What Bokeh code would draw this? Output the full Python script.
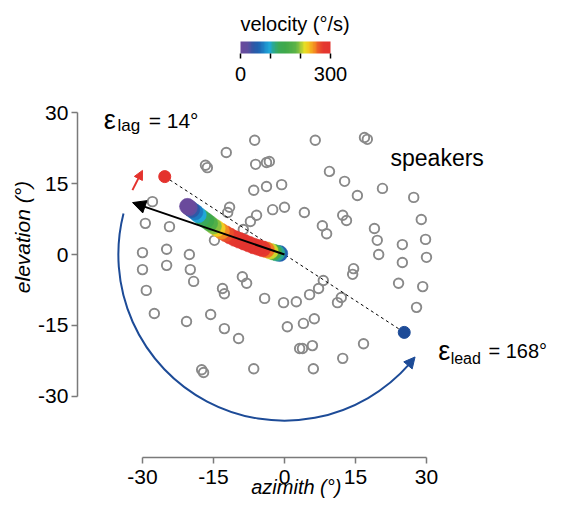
import numpy as np
from bokeh.plotting import figure
from bokeh.models import (ColumnDataSource, LinearColorMapper, ColorBar, FixedTicker,
                          Arrow, NormalHead, Label)
from bokeh.embed import file_html
from bokeh.resources import INLINE

# ---------------- data ----------------
# speaker positions (azimuth, elevation in degrees)
spk_az = [-6.3, 6.5, 16.9, 17.5, -12.3, -16.7, -16.3, -6.1, -3.8, -3.2, 9.5, 12.7, 15.4, 20.7,
          27.3, -27.9, -6.5, -3.8, -0.6, -11.6, -12.0, -5.9, -2.5, 0.0, 4.2, 12.3, 13.1, 8.0,
          8.9, 19.0, 28.9, -29.4, -24.3, -7.2, -8.7, -14.8, 19.6, 24.9, 29.8, -30.0, -24.9,
          -20.1, 19.9, 24.9, 30.0, -30.0, -24.9, -19.9, -19.2, -8.9, -8.0, 14.6, 14.4, 8.2,
          24.1, 29.2, -29.2, -13.1, -12.7, -4.2, -0.2, 7.2, 5.3, 2.5, 12.0, 11.2, 27.9, -27.5,
          -20.7, -15.6, -12.7, -9.7, 0.6, 4.0, 6.3, 16.7, 5.9, 3.2, 3.8, 12.3, 6.1, -17.5,
          -17.1, -6.5]
spk_el = [24.2, 24.2, 24.8, 24.4, 21.6, 18.9, 18.4, 19.1, 19.5, 19.7, 17.6, 15.5, 12.5, 14.0,
          12.1, 11.2, 13.6, 14.4, 14.8, 10.0, 8.9, 8.3, 9.5, 10.0, 8.9, 8.3, 7.2, 6.1,
          4.4, 5.5, 7.4, 6.6, 5.9, 7.0, 5.3, 3.0, 3.0, 2.1, 3.2, 0.4, 1.1,
          0.0, 0.0, -1.7, -0.6, -3.2, -2.3, -3.2, -5.7, -4.7, -6.1, -3.0, -4.2, -5.5,
          -6.1, -6.8, -7.6, -7.2, -8.3, -9.3, -10.2, -7.2, -8.5, -10.0, -9.1, -10.2, -11.2, -12.5,
          -14.2, -12.7, -15.7, -17.8, -15.3, -14.6, -13.6, -18.9, -19.3, -19.9, -19.9, -22.0, -24.2, -24.4,
          -25.0, -24.2]

# lag target (red) and lead target (blue)
target_az = [-25.3, 25.3]
target_el = [16.5, -16.5]

# response trajectory and velocity (deg/s)
traj_az = [-1.0, -1.6, -2.3, -3.0, -3.8, -4.6, -5.5, -6.5, -7.5, -8.5, -9.5, -10.5, -11.5,
           -12.4, -13.3, -14.2, -15.0, -15.8, -16.6, -17.4, -18.2, -18.9, -19.6, -20.1, -20.5]
traj_el = [0.2, 0.3, 0.5, 0.7, 1.0, 1.2, 1.5, 1.8, 2.2, 2.6, 3.0, 3.4, 3.9,
           4.4, 4.9, 5.5, 6.0, 6.6, 7.2, 7.8, 8.4, 9.0, 9.5, 9.9, 10.2]
traj_vel = [60, 110, 160, 210, 250, 275, 290, 298, 300, 300, 296, 290, 280,
            266, 248, 222, 196, 170, 146, 122, 97, 72, 46, 22, 0]

# response direction (end of black arrow)
resp_az = [0.0, -32.1]
resp_el = [0.0, 11.0]

# error arcs: radius (deg) and angles (deg)
lag_arc = dict(radius=34.9, start=157.0, end=149.3)
lead_arc = dict(radius=35.1, start=165.7, end=321.8)

axis_ticks = [-30, -15, 0, 15, 30]
axis_tick_labels = {-30: "-30", -15: "-15", 0: "0", 15: "15", 30: "30"}
cbar_ticks = [0, 100, 200, 300]
cbar_labels = {100: "", 200: ""}

FONT = "Liberation Sans"
RED = "#e4322d"
BLUE = "#1d4b97"
GRAY = "#898989"

anchors_v = [0, 25, 40, 60, 80, 95, 110, 125, 150, 185, 200, 215, 230, 245, 260, 275, 300]
anchors_c = ["#6a4a9c", "#5d4fa0", "#2f57a5", "#1f63b1", "#1d8ccb", "#20a8d8", "#2aa88f",
             "#3aa957", "#3fa94a", "#5cb347", "#9cc83c", "#e9df25", "#f5c11f", "#f49420",
             "#ec5e27", "#e5392f", "#e3342f"]


def hex2rgb(h):
    return [int(h[i:i + 2], 16) for i in (1, 3, 5)]


rgb = np.array([hex2rgb(c) for c in anchors_c], dtype=float)
grid = np.linspace(0, 300, 64)
palette = []
for g in grid:
    r = np.interp(g, anchors_v, rgb[:, 0])
    gg = np.interp(g, anchors_v, rgb[:, 1])
    b = np.interp(g, anchors_v, rgb[:, 2])
    palette.append("#%02x%02x%02x" % (int(round(r)), int(round(gg)), int(round(b))))

# ---------------- figure ----------------
# frame covers the whole canvas; axes are pinned with fixed_location
X_AXIS_AT = -43.0   # elevation where the azimuth axis is drawn
Y_AXIS_AT = -43.74  # azimuth where the elevation axis is drawn

p = figure(width=550, height=498, x_range=(-60.0, 56.2), y_range=(-51.69, 53.81),
           output_backend="svg", toolbar_location=None, title=None,
           min_border_left=0, min_border_right=0, min_border_top=0, min_border_bottom=0)
p.outline_line_color = None
p.grid.visible = False

for ax in (p.xaxis[0], p.yaxis[0]):
    ax.ticker = FixedTicker(ticks=axis_ticks)
    ax.major_label_overrides = axis_tick_labels
    ax.bounds = (-30, 30)
    ax.axis_line_color = "#7a7a7a"
    ax.axis_line_width = 1.5
    ax.major_tick_line_color = "#7a7a7a"
    ax.major_tick_line_width = 1.5
    ax.major_tick_in = 0
    ax.major_tick_out = 6
    ax.minor_tick_line_color = None
    ax.major_label_text_font = FONT
    ax.major_label_text_font_size = "21px"
    ax.major_label_text_color = "black"

p.xaxis.fixed_location = X_AXIS_AT
p.yaxis.fixed_location = Y_AXIS_AT
p.xaxis.major_label_standoff = 7
p.yaxis.major_label_standoff = 3

# axis titles
p.add_layout(Label(x=2.5, y=-49.3, text="azimith (°)", text_font=FONT, text_font_size="20px",
                   text_font_style="italic", text_color="black", text_align="center",
                   text_baseline="alphabetic"))
p.add_layout(Label(x=-55.3, y=3.7, text="elevation (°)", text_font=FONT, text_font_size="21px",
                   text_font_style="italic", text_color="black", text_align="center",
                   text_baseline="alphabetic", angle=90, angle_units="deg"))

# speakers
p.scatter(spk_az, spk_el, marker="circle", size=9.5, fill_color=None,
          line_color=GRAY, line_width=1.9)

# dashed line between targets
p.line(target_az, target_el, line_color="black", line_width=1, line_dash="3 3")

# lead arc
p.arc(x=0, y=0, radius=lead_arc["radius"], start_angle=lead_arc["start"],
      end_angle=lead_arc["end"] - 3.0, start_angle_units="deg", end_angle_units="deg",
      direction="anticlock", line_color=BLUE, line_width=2)

# trajectory
mapper = LinearColorMapper(palette=palette, low=0, high=300)
src = ColumnDataSource(dict(x=traj_az, y=traj_el, v=traj_vel))
p.scatter("x", "y", source=src, marker="circle", size=16,
          fill_color={"field": "v", "transform": mapper},
          line_color={"field": "v", "transform": mapper}, line_width=0.5)

# targets
p.scatter(target_az[:1], target_el[:1], marker="circle", size=12, fill_color=RED, line_color=RED)
p.scatter(target_az[1:], target_el[1:], marker="circle", size=12, fill_color=BLUE, line_color=BLUE)

# response arrow
p.add_layout(Arrow(end=NormalHead(size=13, fill_color="black", line_color="black"),
                   x_start=resp_az[0], y_start=resp_el[0], x_end=resp_az[1], y_end=resp_el[1],
                   line_color="black", line_width=2))


def polar(r, a):
    return r * np.cos(np.radians(a)), r * np.sin(np.radians(a))


# lag arrow (red)
lx0, ly0 = polar(lag_arc["radius"], lag_arc["start"])
lx1, ly1 = polar(lag_arc["radius"], lag_arc["end"])
p.add_layout(Arrow(end=NormalHead(size=9, fill_color=RED, line_color=RED),
                   x_start=lx0, y_start=ly0, x_end=lx1, y_end=ly1,
                   line_color=RED, line_width=2))

# lead arrow head (blue)
bx0, by0 = polar(lead_arc["radius"], lead_arc["end"] - 3.5)
bx1, by1 = polar(lead_arc["radius"], lead_arc["end"])
p.add_layout(Arrow(end=NormalHead(size=11, fill_color=BLUE, line_color=BLUE),
                   x_start=bx0, y_start=by0, x_end=bx1, y_end=by1,
                   line_color=BLUE, line_width=2))


# labels
def lab(x, y, t, size):
    p.add_layout(Label(x=x, y=y, text=t, text_font=FONT, text_font_size=size,
                       text_color="black", text_baseline="alphabetic", text_align="left"))


lab(-38.2, 28.4, "ε", "27px")
lab(-35.3, 27.3, "lag", "17px")
lab(-28.7, 28.4, "= 14°", "21px")
lab(32.5, -20.5, "ε", "27px")
lab(35.1, -22.0, "lead", "16px")
lab(43.1, -20.5, "= 168°", "20px")
lab(22.4, 20.4, "speakers", "23px")

# colour bar
cb = ColorBar(color_mapper=mapper, orientation="horizontal", width=90, height=12,
              location=(240, 415), padding=0,
              ticker=FixedTicker(ticks=cbar_ticks), major_label_overrides=cbar_labels,
              title="velocity (°/s)", title_text_font=FONT, title_text_font_size="20px",
              title_text_font_style="normal", title_text_color="black", title_standoff=13,
              major_label_text_font=FONT, major_label_text_font_size="20px",
              major_label_text_color="black",
              major_tick_out=5, major_tick_in=0, major_tick_line_color="black",
              major_tick_line_width=1.5, minor_tick_line_color=None, label_standoff=8,
              bar_line_color=None, border_line_color=None, background_fill_alpha=0)
p.add_layout(cb, "center")

open("out.html", "w").write(file_html(p, INLINE))
